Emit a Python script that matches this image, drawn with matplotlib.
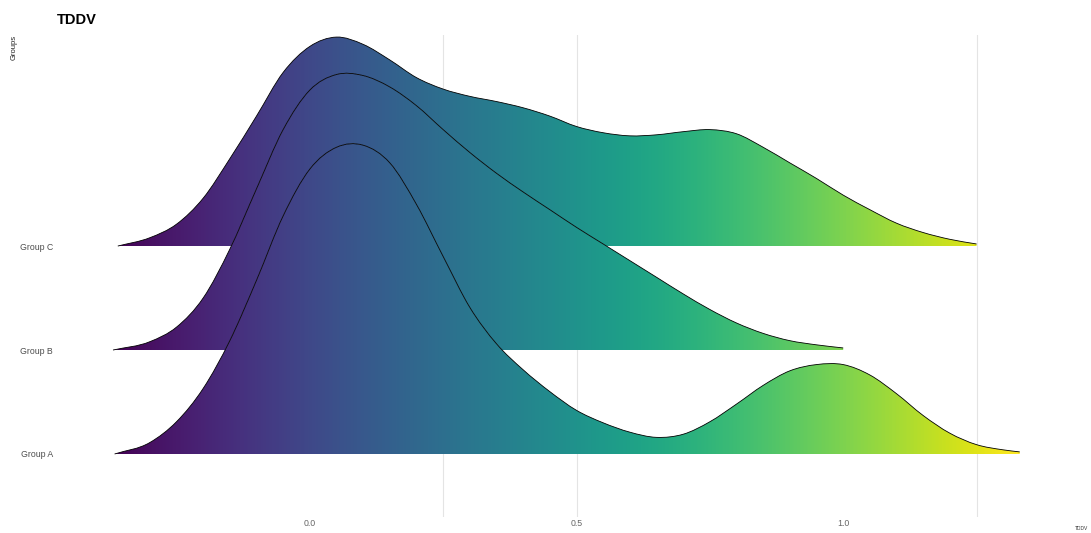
import matplotlib
matplotlib.use("Agg")
import matplotlib.pyplot as plt
import numpy as np
from matplotlib.path import Path
from matplotlib.patches import PathPatch

plt.rcParams["font.family"] = ["Liberation Sans", "DejaVu Sans"]

# ridge labels, bottom to top
groups = ["Group A", "Group B", "Group C"]

# density curves (x value, ridge height in row units)
a_x = [-0.366, -0.30, -0.25, -0.20, -0.15, -0.10, -0.05, 0.00, 0.05, 0.10,
       0.15, 0.20, 0.25, 0.30, 0.35, 0.40, 0.45, 0.50, 0.55, 0.60,
       0.65, 0.70, 0.75, 0.80, 0.85, 0.90, 0.95, 1.00, 1.05, 1.10,
       1.15, 1.20, 1.25, 1.30, 1.331]
a_h = [0.00, 0.11, 0.31, 0.63, 1.09, 1.67, 2.29, 2.74, 2.95, 2.97,
       2.80, 2.40, 1.90, 1.41, 1.06, 0.81, 0.60, 0.42, 0.30, 0.21,
       0.16, 0.19, 0.31, 0.48, 0.66, 0.80, 0.86, 0.86, 0.76, 0.58,
       0.37, 0.20, 0.09, 0.04, 0.02]

b_x = [-0.369, -0.30, -0.25, -0.20, -0.15, -0.10, -0.05, 0.00, 0.05, 0.10,
       0.15, 0.20, 0.25, 0.30, 0.35, 0.40, 0.45, 0.50, 0.55, 0.60,
       0.65, 0.70, 0.75, 0.80, 0.85, 0.90, 0.95, 1.00]
b_h = [0.00, 0.08, 0.22, 0.50, 0.97, 1.55, 2.12, 2.50, 2.65, 2.64,
       2.53, 2.35, 2.12, 1.90, 1.70, 1.52, 1.35, 1.18, 1.02, 0.86,
       0.70, 0.54, 0.39, 0.26, 0.16, 0.09, 0.05, 0.02]

c_x = [-0.360, -0.30, -0.25, -0.20, -0.15, -0.10, -0.05, 0.00, 0.05, 0.10,
       0.15, 0.20, 0.25, 0.30, 0.35, 0.40, 0.45, 0.50, 0.55, 0.60,
       0.65, 0.70, 0.75, 0.80, 0.85, 0.90, 0.95, 1.00, 1.05, 1.10,
       1.15, 1.20, 1.25]
c_h = [0.00, 0.08, 0.21, 0.46, 0.84, 1.25, 1.67, 1.92, 2.01, 1.94,
       1.79, 1.62, 1.51, 1.44, 1.39, 1.33, 1.25, 1.15, 1.09, 1.06,
       1.07, 1.10, 1.12, 1.08, 0.95, 0.80, 0.65, 0.49, 0.35, 0.22,
       0.13, 0.065, 0.02]

x_ticks = [0.0, 0.5, 1.0]
x_tick_labels = ["0.0", "0.5", "1.0"]
grid_x = [0.25, 0.5, 1.25]


def hermite_path(xs, ys):
    """Smooth y(x) curve through the points as cubic bezier segments."""
    xs = np.asarray(xs, dtype=float)
    ys = np.asarray(ys, dtype=float)
    dx = np.diff(xs)
    sl = np.diff(ys) / dx
    m = np.empty_like(ys)
    m[0], m[-1] = sl[0], sl[-1]
    m[1:-1] = (sl[1:] * dx[:-1] + sl[:-1] * dx[1:]) / (dx[:-1] + dx[1:])
    verts = [(xs[0], ys[0])]
    codes = [Path.MOVETO]
    for i in range(len(xs) - 1):
        h = dx[i] / 3.0
        verts += [(xs[i] + h, ys[i] + m[i] * h),
                  (xs[i + 1] - h, ys[i + 1] - m[i + 1] * h),
                  (xs[i + 1], ys[i + 1])]
        codes += [Path.CURVE4] * 3
    return verts, codes


W, H = 1091, 533
fig = plt.figure(figsize=(W / 100, H / 100), dpi=100)
ax = fig.add_axes([57 / W, 16 / H, (1088 - 57) / W, (517 - 35) / H])

for gx in grid_x:
    ax.axvline(gx, color="#e4e4e4", lw=0.8, zorder=0)

x_lo = min(min(a_x), min(b_x), min(c_x))
x_hi = max(max(a_x), max(b_x), max(c_x))
gradient = np.linspace(0, 1, 512).reshape(1, -1)

ridges = [(a_x, a_h), (b_x, b_h), (c_x, c_h)]
# draw back to front: top ridge first
for k in range(len(ridges) - 1, -1, -1):
    xs, hs = ridges[k]
    base = k + 1
    verts, codes = hermite_path(xs, base + np.asarray(hs))

    outline = Path(verts, codes)
    closed = Path(verts + [(xs[-1], base), (xs[0], base), (xs[0], base)],
                  codes + [Path.LINETO, Path.LINETO, Path.CLOSEPOLY])

    z = 2 + (len(ridges) - k) * 2
    clip = PathPatch(closed, facecolor="white", edgecolor="none", zorder=z)
    ax.add_patch(clip)
    im = ax.imshow(gradient, cmap="viridis", aspect="auto",
                   extent=(x_lo, x_hi, base, base + max(hs) + 0.1),
                   origin="lower", interpolation="bilinear", zorder=z + 0.5)
    im.set_clip_path(clip)
    ax.add_patch(PathPatch(outline, facecolor="none", edgecolor="black",
                           lw=0.6, zorder=z + 1))

ax.set_xlim(-0.474, 1.459)
ax.set_ylim(0.394, 5.03)

ax.set_yticks(range(1, len(groups) + 1), groups)
ax.set_xticks(x_ticks, x_tick_labels)
ax.tick_params(axis="y", length=0, pad=2.9, labelsize=6.3, labelcolor="#4d4d4d")
ax.tick_params(axis="x", length=0, pad=1.5, labelsize=6.3, labelcolor="#666666")
for s in ax.spines.values():
    s.set_visible(False)

fig.text(57 / W, 1 - 13 / H, "TDDV", fontsize=10.5, fontweight="bold",
         ha="left", va="top")
fig.text(14 / W, 1 - 35 / H, "Groups", fontsize=5.5, rotation=90,
         ha="center", va="top", color="#222222")
fig.text(1088 / W, 1 - 528 / H, "TDDV", fontsize=3.5, ha="right",
         va="center", color="#333333")

fig.savefig("out.png", dpi=100)
